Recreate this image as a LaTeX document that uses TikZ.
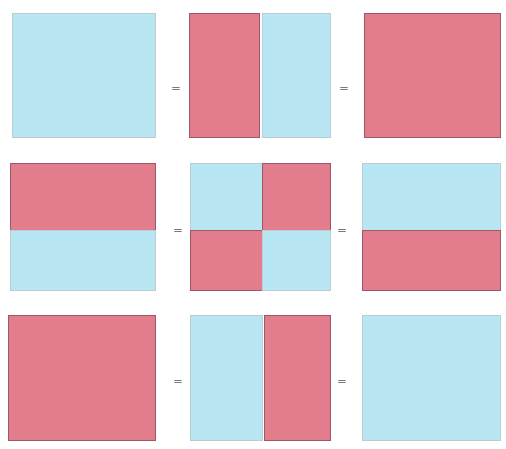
\documentclass[tikz,border=0pt]{standalone}
\usepackage{tikz}
\usetikzlibrary{positioning}
\definecolor{figblue}{HTML}{B8E6F2}
\definecolor{figred}{HTML}{E27D8D}
\tikzset{
  panel/.style={anchor=north west, inner sep=0pt, outer sep=0pt,
    line width=0.5pt, minimum width=#1},
  sblue/.style={fill=figblue, draw=figblue!75!black!60},
  sred/.style={fill=figred, draw=figred!70!black},
  hh/.style={minimum height=#1},
  eqmark/.style={font=\normalsize\bfseries, text=black!85, inner sep=1pt},
}

\begin{document}
\begin{tikzpicture}[x=1pt, y=-1pt]
  \useasboundingbox (0,0) rectangle (506,449);
  % top row
  \node[panel=143pt, hh=124pt, sblue] (a1) at (12,13) {};
  \node[panel=70pt, hh=124pt, sred] (a2l) at (189,13) {};
  \node[panel=68pt, hh=124pt, sblue] (a2r) at (262,13) {};
  \node[panel=136pt, hh=124pt, sred] (a3) at (364,13) {};
  % middle row
  \node[panel=145pt, hh=67pt, sred] (b1t) at (10,163) {};
  \node[panel=145pt, hh=60pt, sblue] (b1b) at (10,230) {};
  \node[panel=72pt, hh=67pt, sblue] (b2tl) at (190,163) {};
  \node[panel=68pt, hh=67pt, sred] (b2tr) at (262,163) {};
  \node[panel=72pt, hh=60pt, sred] (b2bl) at (190,230) {};
  \node[panel=68pt, hh=60pt, sblue] (b2br) at (262,230) {};
  \node[panel=138pt, hh=67pt, sblue] (b3t) at (362,163) {};
  \node[panel=138pt, hh=60pt, sred] (b3b) at (362,230) {};
  % bottom row
  \node[panel=147pt, hh=125pt, sred] (c1) at (8,315) {};
  \node[panel=72pt, hh=125pt, sblue] (c2l) at (190,315) {};
  \node[panel=66pt, hh=125pt, sred] (c2r) at (264,315) {};
  \node[panel=138pt, hh=125pt, sblue] (c3) at (362,315) {};
  % marks between the panels
  \node[eqmark] (e1) at (176,90) {=};
  \node[eqmark] (e2) at (344,90) {=};
  \node[eqmark] (e3) at (178,232) {=};
  \node[eqmark] (e4) at (342,232) {=};
  \node[eqmark] (e5) at (178,383) {=};
  \node[eqmark] (e6) at (342,383) {=};
\end{tikzpicture}
\end{document}
